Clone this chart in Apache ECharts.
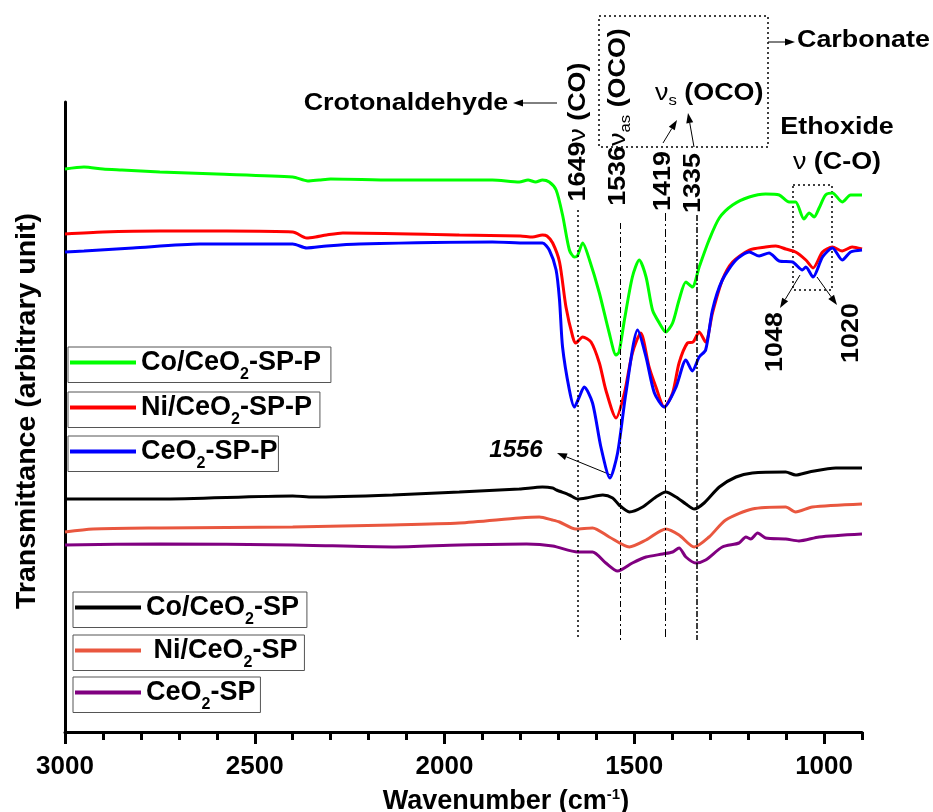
<!DOCTYPE html>
<html>
<head>
<meta charset="utf-8">
<script src="https://cdn.jsdelivr.net/npm/echarts@6/dist/echarts.min.js"></script>
<style>
html,body{margin:0;padding:0;background:#fff;}
#main{width:933px;height:812px;}
</style>
</head>
<body>
<div id="main"></div>
<script>
// wavenumber (cm-1) / transmittance (arbitrary unit)
var wnCoP = [3000,2950,2900,2850,2750,2600,2400,2360,2330,2300,2137,1874,1803,1780,1760,1742,1724,1706,1689,1671,1658,1650,1636,1618,1592,1566,1548,1540,1526,1505,1487,1469,1452,1434,1417,1399,1382,1364,1347,1329,1303,1276,1241,1197,1154,1118,1092,1075,1053,1039,1026,1013,996,978,952,930,900];
var tCoP  = [563,565,563,562,560,558,555,551,552,553,552,552,550,552,550,552,550,542,517,482,475,476,489,472,439,399,377,380,412,455,472,455,422,409,400,409,432,450,445,465,492,514,527,535,538,537,530,530,513,519,515,524,537,539,530,537,537];

var wnNiP = [3000,2900,2750,2574,2400,2363,2340,2311,2268,1961,1800,1768,1742,1730,1715,1697,1680,1662,1654,1636,1614,1592,1575,1548,1526,1505,1483,1461,1443,1421,1399,1382,1360,1345,1329,1312,1294,1268,1241,1197,1154,1127,1101,1075,1048,1029,1004,978,952,926,900];
var tNiP  = [498,500,501,501,500,494,495,497,499,497,496,495,497,496,489,470,425,395,389,395,390,369,342,314,339,379,399,365,345,325,339,369,389,390,400,390,419,452,470,482,485,486,483,480,472,464,480,485,481,485,483];

var wnCeP = [3000,2950,2821,2645,2400,2363,2311,2224,1874,1784,1742,1724,1706,1697,1689,1671,1658,1645,1632,1610,1588,1564,1544,1522,1491,1469,1447,1421,1390,1364,1347,1329,1312,1294,1268,1232,1197,1171,1145,1118,1083,1057,1048,1029,1004,978,952,930,900];
var tCeP  = [480,481,484,488,488,484,486,488,490,489,489,482,462,432,385,342,325,335,345,329,285,254,279,339,402,375,339,325,345,372,361,375,382,422,452,472,480,476,479,471,470,462,465,455,475,484,472,480,482];

var wnCo = [3000,2750,2400,2347,2137,1961,1803,1742,1715,1705,1671,1649,1627,1583,1557,1540,1513,1478,1443,1417,1390,1364,1342,1316,1276,1232,1189,1101,1075,1039,969,900];
var tCo  = [233,233,236,235,237,240,243,245,244,242,237,233,234,237,234,227,220,225,235,240,235,228,223,229,245,255,259,260,257,260,264,264];

var wnNi = [3000,2926,2750,2400,2137,1961,1803,1750,1716,1697,1654,1610,1566,1513,1469,1417,1382,1342,1303,1259,1189,1101,1075,1031,900];
var tNi  = [200,203,204,205,207,209,214,215,212,210,203,204,195,185,192,203,197,185,195,212,223,225,220,225,228];

var wnCe = [3000,2750,2400,2137,1961,1784,1715,1649,1610,1575,1544,1505,1469,1425,1399,1382,1364,1338,1312,1268,1224,1206,1193,1175,1154,1101,1066,1013,900];
var tCe  = [187,188,187,185,187,188,186,180,180,169,161,169,175,178,180,184,175,169,172,185,189,195,193,199,194,193,191,195,198];

var majorTicks = [1000,1500,2000,2500,3000];
var minorTicks = [900,1000,1100,1200,1300,1400,1500,1600,1700,1800,1900,2000,2100,2200,2300,2400,2500,2600,2700,2800,2900,3000];
var bandPos = [1649,1536,1419,1335];

var FONT = '"Liberation Sans", Arial, sans-serif';

function pairs(wn, t){
    return wn.map(function(w, i){ return [w, t[i]]; });
}

var chart = echarts.init(document.getElementById('main'), null, {renderer:'canvas'});

var seriesDefs = [
    {name:'Co/CeO2-SP-P', color:'#00ff00', wn:wnCoP, t:tCoP, txt:'{t|Co/CeO}{s|2}{t|-SP-P}'},
    {name:'Ni/CeO2-SP-P', color:'#ff0000', wn:wnNiP, t:tNiP, txt:'{t|Ni/CeO}{s|2}{t|-SP-P}'},
    {name:'CeO2-SP-P',    color:'#0000ff', wn:wnCeP, t:tCeP, txt:'{t|CeO}{s|2}{t|-SP-P}'},
    {name:'Co/CeO2-SP',   color:'#000000', wn:wnCo,  t:tCo,  txt:'{t|Co/CeO}{s|2}{t|-SP}'},
    {name:'Ni/CeO2-SP',   color:'#e9573f', wn:wnNi,  t:tNi,  txt:'{t| Ni/CeO}{s|2}{t|-SP}'},
    {name:'CeO2-SP',      color:'#800080', wn:wnCe,  t:tCe,  txt:'{t|CeO}{s|2}{t|-SP}'}
];

var richLegend = {
    t:{fontSize:27, fontWeight:'bold', fontFamily:FONT, color:'#000', lineHeight:40, verticalAlign:'middle'},
    s:{fontSize:16, fontWeight:'bold', fontFamily:FONT, color:'#000', lineHeight:8, verticalAlign:'bottom'}
};

// legend boxes: [left, top, right padding]
var legendBox = [[68,347,10],[68,392,8],[68,436,1],[73,592,8],[73,635,7],[73,677,5]];

var legends = seriesDefs.map(function(d, i){
    return {
        data:[d.name],
        left:legendBox[i][0], top:legendBox[i][1],
        orient:'horizontal',
        icon:'rect', itemWidth:66, itemHeight:4, itemGap:0,
        padding:[2,legendBox[i][2],0,2],
        borderColor:'#555', borderWidth:1,
        selectedMode:false,
        formatter:function(){ return d.txt; },
        textStyle:{rich:richLegend}
    };
});

var series = seriesDefs.map(function(d){
    return {
        name:d.name, type:'line', data:pairs(d.wn, d.t),
        showSymbol:false, smooth:0.25,
        lineStyle:{color:d.color, width:3}, itemStyle:{color:d.color},
        silent:true, animation:false, z:3
    };
});

// band markers
var bandStyles = [
    {type:[2,3], width:1.5},
    {type:[6,3,2,3], width:1},
    {type:[8,3,2,3], width:1},
    {type:[6,2,2,2], width:1.5}
];
var bandTop = [522,509,519,517];
series.push({
    type:'line', data:[], silent:true, animation:false,
    markLine:{
        silent:true, symbol:['none','none'], label:{show:false},
        data:bandPos.map(function(w, i){
            return [{coord:[w, bandTop[i]], lineStyle:{color:'#000', type:bandStyles[i].type, width:bandStyles[i].width}},
                    {coord:[w, 92]}];
        })
    }
});

function arrow(x1, y1, x2, y2){
    var a = Math.atan2(y2 - y1, x2 - x1), h = 10, w = 3.5;
    var bx = x2 - h * Math.cos(a), by = y2 - h * Math.sin(a);
    return [
        {type:'line', shape:{x1:x1, y1:y1, x2:bx, y2:by}, style:{stroke:'#000', lineWidth:1}, silent:true},
        {type:'polygon', shape:{points:[[x2,y2],[bx + w*Math.sin(a), by - w*Math.cos(a)],[bx - w*Math.sin(a), by + w*Math.cos(a)]]}, style:{fill:'#000'}, silent:true}
    ];
}

var richAnn = {
    b:{fontSize:24, fontWeight:'bold', fontFamily:FONT, fill:'#000'},
    n:{fontSize:24, fontWeight:'normal', fontFamily:FONT, fill:'#000'},
    s:{fontSize:15, fontWeight:'normal', fontFamily:FONT, fill:'#000', padding:[16,0,0,0], verticalAlign:'top'}
};

function txt(x, y, text, rot, align){
    return {type:'text', x:x, y:y, rotation:rot || 0, scaleX:1.12, silent:true,
        style:{text:text, rich:richAnn, align:align || 'center', verticalAlign:'middle', fill:'#000'}};
}

var graphics = [
    txt(406, 103, '{b|Crotonaldehyde}'),
    txt(797, 40, '{b|Carbonate}', 0, 'left'),
    txt(655, 93, '{n|ν}{s|s}{b| (OCO)}', 0, 'left'),
    txt(837, 127, '{b|Ethoxide}'),
    txt(837, 162, '{n|ν}{b| (C-O)}'),
    txt(578, 132, '{b|1649}{n|ν}{b| (CO)}', Math.PI/2),
    txt(618, 117, '{b|1536}{n|ν}{s|as}{b| (OCO)}', Math.PI/2),
    txt(663, 181, '{b|1419}', Math.PI/2),
    txt(693, 183, '{b|1335}', Math.PI/2),
    txt(775, 342, '{b|1048}', Math.PI/2),
    txt(851, 333, '{b|1020}', Math.PI/2),
    {type:'text', x:516, y:450, silent:true, style:{text:'1556', font:'italic bold 24px ' + FONT, align:'center', verticalAlign:'middle', fill:'#000'}},
    {type:'rect', shape:{x:599, y:16, width:169, height:131}, style:{fill:null, stroke:'#000', lineWidth:1.5, lineDash:[2,3]}, silent:true},
    {type:'rect', shape:{x:793, y:185, width:39, height:105}, style:{fill:null, stroke:'#000', lineWidth:1.5, lineDash:[2,3]}, silent:true},
    {type:'text', x:506, y:802, silent:true, style:{text:'{a|Wavenumber (cm}{p|-1}{a|)}', align:'center', verticalAlign:'middle',
        rich:{a:{fontSize:27, fontWeight:'bold', fontFamily:FONT, fill:'#000'}, p:{fontSize:15, fontWeight:'bold', fontFamily:FONT, fill:'#000', padding:[0,0,14,0]}}}},
    {type:'text', x:27, y:411, rotation:Math.PI/2, silent:true, style:{text:'Transmittance (arbitrary unit)', font:'bold 28.5px ' + FONT, align:'center', verticalAlign:'middle', fill:'#000'}}
];
[[557,103,513,103],[768,42,795,42],[663,143,677,120],[694,147,688,113],[611,475,557,453],[800,275,780,308],[817,277,837,305]].forEach(function(p){
    graphics = graphics.concat(arrow(p[0], p[1], p[2], p[3]));
});

var option = {
    backgroundColor:'#fff',
    animation:false,
    grid:{left:65, right:71, top:102, bottom:80, containLabel:false},
    xAxis:[{
        type:'value', min:900, max:3000, inverse:true,
        axisLine:{show:true, onZero:false, lineStyle:{color:'#000', width:3}},
        axisTick:{show:true, customValues:majorTicks, length:12, lineStyle:{color:'#000', width:3}},
        axisLabel:{show:true, customValues:majorTicks, formatter:function(v){ return String(v); },
            fontSize:26, fontWeight:'bold', fontFamily:FONT, color:'#000', margin:22},
        splitLine:{show:false}
    },{
        type:'value', min:900, max:3000, inverse:true, position:'top', offset:-630,
        axisLine:{show:false},
        axisTick:{show:true, inside:true, customValues:minorTicks, length:8, lineStyle:{color:'#000', width:3}},
        axisLabel:{show:false},
        splitLine:{show:false}
    }],
    yAxis:{
        type:'value', min:0, max:630,
        axisLine:{show:true, onZero:false, lineStyle:{color:'#000', width:3}},
        axisTick:{show:false}, axisLabel:{show:false}, splitLine:{show:false}
    },
    legend:legends,
    series:series,
    graphic:graphics
};
chart.setOption(option);
</script>
</body>
</html>
